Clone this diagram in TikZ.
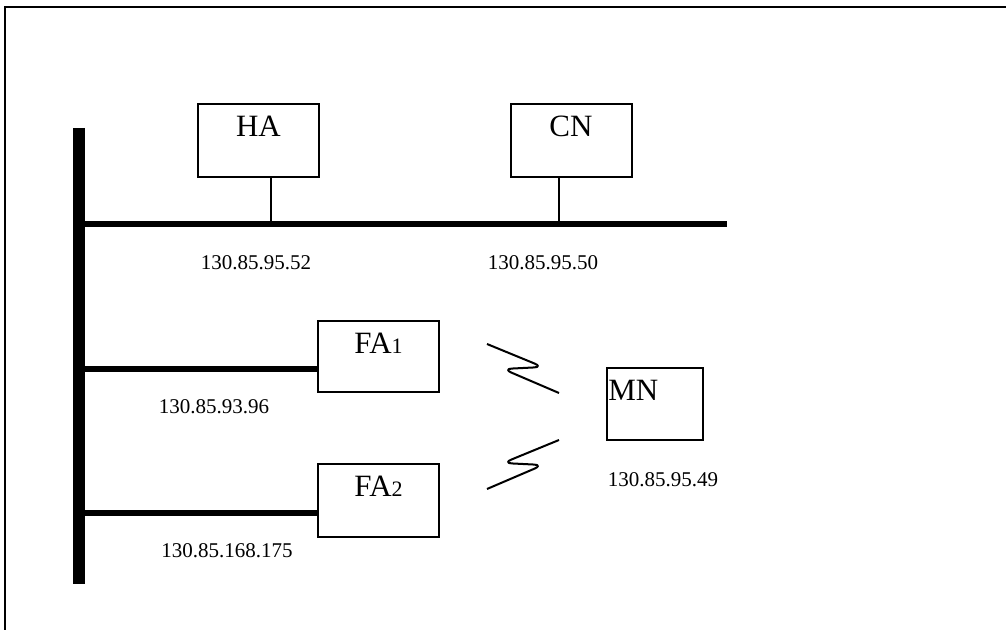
\documentclass[tikz,border=0pt]{standalone}
\usepackage{fontspec}
\setmainfont{Liberation Serif}
\usetikzlibrary{positioning}
\tikzset{
  host box/.style={draw, line width=1pt, fill=white, minimum width=60.5pt,
    minimum height=36.5pt, inner sep=0pt},
  box text/.style={font=\fontsize{15.5}{15.5}\selectfont, inner sep=0pt},
  addr label/.style={font=\fontsize{10.5}{10.5}\selectfont, inner sep=0pt},
  backbone/.style={line width=6pt},
  segment/.style={line width=3pt},
  stem/.style={line width=0.6pt},
  radio link/.style={line width=1pt, rounded corners=4.5pt, line join=round},
  frame/.style={line width=1pt}
}
\newcommand{\sub}[1]{{\fontsize{11}{11}\selectfont #1}}

\begin{document}
\begin{tikzpicture}[x=0.5pt, y=-0.5pt]
  \useasboundingbox (0,0) rectangle (1006,630);
  \draw[frame] (5,630) -- (5,7) -- (1006,7);

  % wired network
  \coordinate (bus top) at (79,128);
  \coordinate (bus bottom) at (79,584);
  \coordinate (lan end) at (727,224.5);
  \draw[backbone] (bus top) -- (bus bottom);
  \draw[segment] (bus top |- lan end) -- (lan end);

  \node[host box, label={[box text, anchor=north, yshift=-6.5pt]north:HA}] (ha) at (258.5,140.5) {};
  \node[host box, label={[box text, anchor=north, yshift=-6.5pt]north:CN}] (cn) at (571,140.5) {};
  \coordinate (ha tap) at (271,224.5);
  \coordinate (cn tap) at (559,224.5);
  \draw[stem] (ha tap) -- (ha tap |- ha.south);
  \draw[stem] (cn tap) -- (cn tap |- cn.south);
  \node[addr label] (ha addr) at (256,263) {130.85.95.52};
  \node[addr label] (cn addr) at (543,263) {130.85.95.50};

  \node[host box, minimum height=35.5pt, label={[box text, anchor=north, yshift=-6.5pt]north:FA\sub{1}}] (fa1) at (378.5,356.5) {};
  \node[host box, label={[box text, anchor=north, yshift=-6.5pt]north:FA\sub{2}}] (fa2) at (378.5,500.5) {};
  \coordinate (fa1 tap) at (fa1.west |- 0,369);
  \coordinate (fa2 tap) at (fa2.west |- 0,513);
  \draw[segment] (fa1 tap -| bus top) -- (fa1 tap);
  \draw[segment] (fa2 tap -| bus top) -- (fa2 tap);
  \node[addr label] (fa1 addr) at (214,407) {130.85.93.96};
  \node[addr label] (fa2 addr) at (227,551) {130.85.168.175};

  % mobile node
  \node[host box, minimum width=48pt, minimum height=36pt,
    label={[box text, anchor=north west, xshift=1pt, yshift=-6.5pt]north west:MN}] (mn) at (655,404) {};
  \node[addr label] (mn addr) at (663,480) {130.85.95.49};

  \draw[radio link] (487,344) -- (543,367) -- (503,369) -- (559,393);
  \draw[radio link] (559,440) -- (503,463) -- (543,465) -- (487,489);
\end{tikzpicture}
\end{document}
